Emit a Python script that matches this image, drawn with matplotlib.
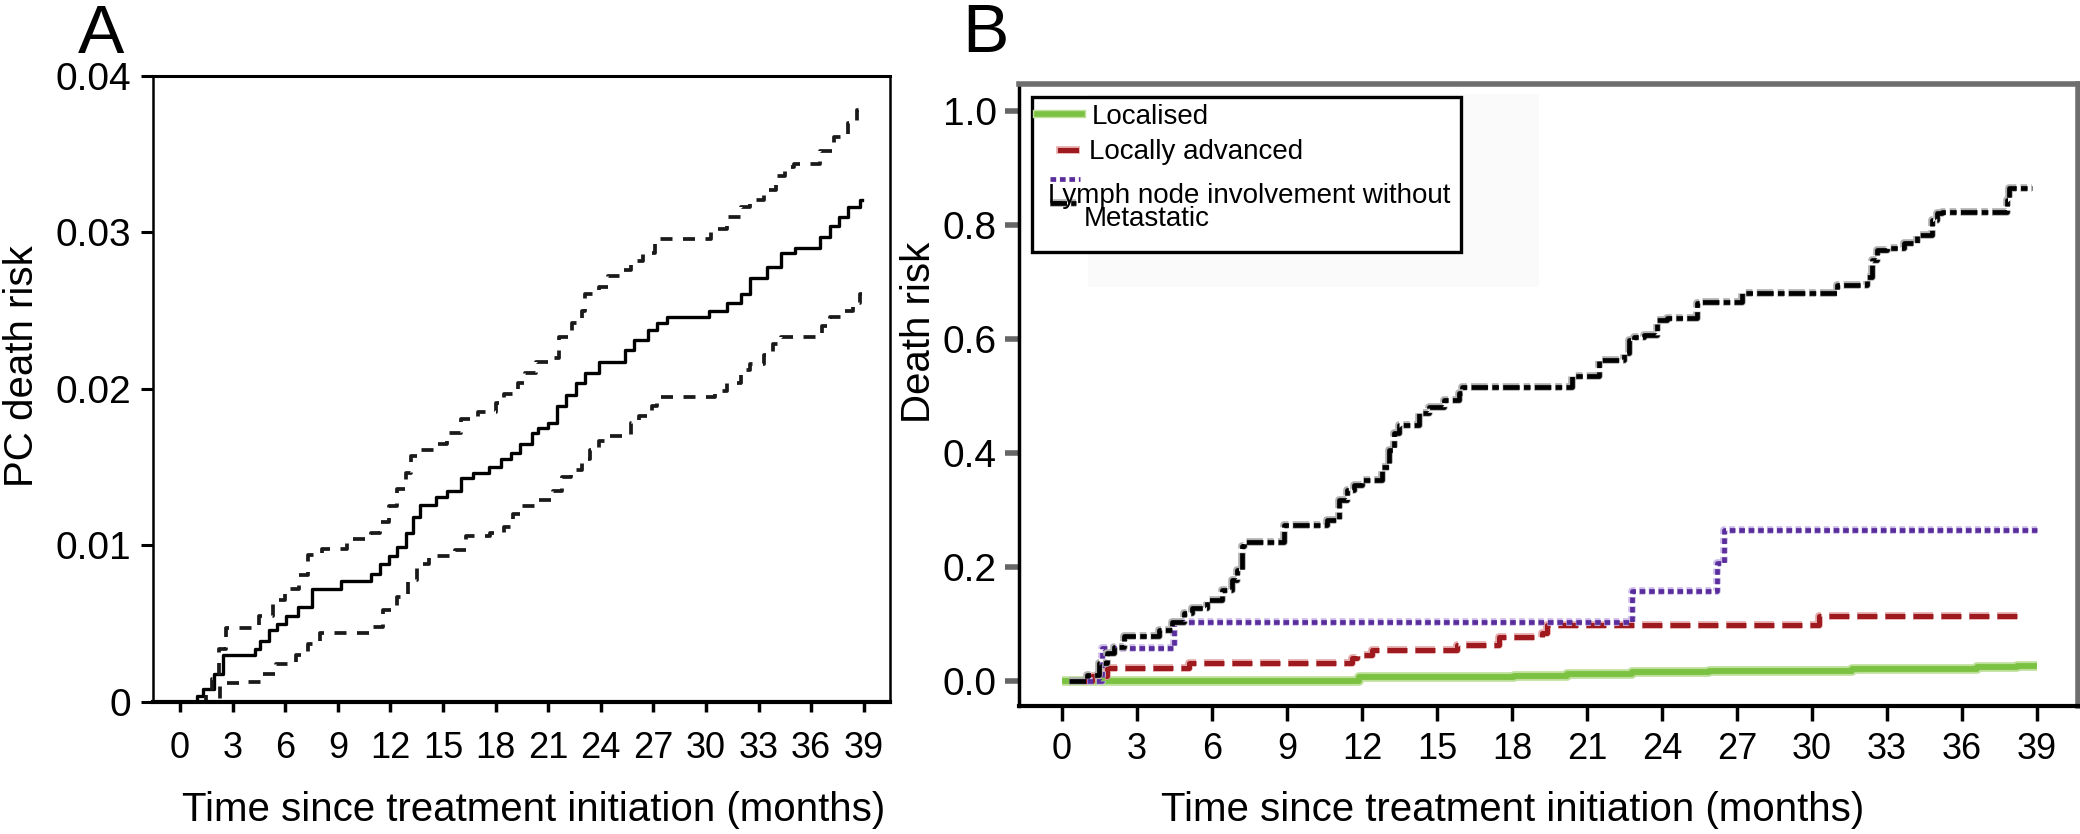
import matplotlib
matplotlib.use('Agg')
import matplotlib.pyplot as plt
import matplotlib.patheffects as pe
from matplotlib.patches import Rectangle

plt.rcParams['font.family'] = ['Liberation Sans', 'DejaVu Sans']

month_ticks = list(range(0, 40, 3))

# ---- panel A : PC death risk with confidence band (step curves) ----
a_time_mid = [0, 0.95, 1.3, 1.95, 2.45, 4.3, 4.55, 5.05, 5.55, 6.05, 6.7, 7.55, 9.2, 10.9,
              11.4, 11.9, 12.4, 12.9, 13.3, 13.7, 14.6, 15.2, 16.0, 16.7, 17.6, 18.3, 18.9,
              19.4, 20.1, 20.4, 21.0, 21.5, 22.0, 22.6, 23.1, 23.9, 25.4, 25.9, 26.7, 27.2,
              27.8, 30.2, 31.2, 32.0, 32.5, 33.5, 34.3, 35.1, 36.5, 37.1, 37.6, 38.1, 38.8, 38.9]
a_risk_mid = [0, 0.0004, 0.0008, 0.0018, 0.0030, 0.0034, 0.0039, 0.0046, 0.0050, 0.0055,
              0.0061, 0.0072, 0.0077, 0.0082, 0.0088, 0.0093, 0.0099, 0.0108, 0.0118, 0.0126,
              0.0131, 0.0135, 0.0143, 0.0146, 0.0150, 0.0155, 0.0159, 0.0165, 0.0172, 0.0175,
              0.0178, 0.0189, 0.0196, 0.0204, 0.0210, 0.0217, 0.0225, 0.0231, 0.0238, 0.0242,
              0.0246, 0.0250, 0.0255, 0.0261, 0.0271, 0.0278, 0.0287, 0.0290, 0.0297, 0.0304,
              0.0310, 0.0316, 0.0321, 0.0321]

a_time_hi = [1.2, 1.5, 1.8, 2.2, 2.6, 4.5, 5.3, 6.0, 6.8, 7.3, 8.1, 9.5, 10.9, 11.4, 11.9,
             12.4, 12.9, 13.2, 13.6, 14.5, 15.2, 16.0, 17.0, 18.0, 18.5, 19.3, 19.7, 20.3,
             21.3, 21.6, 22.35, 22.9, 23.1, 23.9, 24.4, 25.2, 25.7, 26.4, 27.1, 30.3, 31.2,
             32.0, 32.5, 33.3, 34.0, 34.5, 35.0, 36.5, 37.3, 38.1, 38.6, 38.8]
a_risk_hi = [0, 0.0006, 0.0015, 0.0034, 0.0047, 0.0055, 0.0065, 0.0072, 0.0081, 0.0094,
             0.0098, 0.0104, 0.0108, 0.0115, 0.0125, 0.0136, 0.0146, 0.0157, 0.0161, 0.0165,
             0.0172, 0.0181, 0.0185, 0.0191, 0.0197, 0.0204, 0.0210, 0.0217, 0.0220, 0.0233,
             0.0242, 0.0250, 0.0261, 0.0265, 0.0272, 0.0276, 0.0282, 0.0287, 0.0296, 0.0302,
             0.0310, 0.0316, 0.0321, 0.0327, 0.0336, 0.0342, 0.0344, 0.0352, 0.0361, 0.0370,
             0.0378, 0.0378]

a_time_lo = [1.2, 1.75, 2.3, 3.5, 4.75, 5.5, 6.6, 7.3, 8.0, 10.9, 11.6, 12.4, 13.0, 13.5,
             14.2, 15.7, 16.3, 17.7, 18.5, 19.0, 19.5, 20.3, 21.3, 21.8, 22.3, 22.9, 23.4,
             23.9, 24.4, 25.7, 26.2, 26.9, 27.2, 30.5, 31.2, 32.0, 32.5, 33.3, 33.8, 34.3,
             36.6, 37.1, 37.9, 38.4, 38.8, 38.9]
a_risk_lo = [0, 0.0002, 0.0012, 0.0013, 0.0018, 0.0024, 0.0030, 0.0037, 0.0044, 0.0048,
             0.0059, 0.0067, 0.0078, 0.0088, 0.0093, 0.0097, 0.0106, 0.0108, 0.0112, 0.0120,
             0.0125, 0.0129, 0.0135, 0.0144, 0.0148, 0.0155, 0.0161, 0.0167, 0.0170, 0.0178,
             0.0183, 0.0189, 0.0195, 0.0199, 0.0204, 0.0212, 0.0216, 0.0222, 0.0229, 0.0233,
             0.0240, 0.0246, 0.0250, 0.0255, 0.0261, 0.0261]

a_yticks = [0, 0.01, 0.02, 0.03, 0.04]
a_yticklabels = ['0', '0.01', '0.02', '0.03', '0.04']

# ---- panel B : death risk by stage ----
stage_names = ['Localised', 'Locally advanced', 'Lymph node involvement without', 'Metastatic']

b_time_loc = [0, 11.9, 18.1, 20.2, 22.8, 25.9, 31.6, 36.6, 38.2, 39.0]
b_risk_loc = [0.0, 0.006, 0.009, 0.012, 0.015, 0.018, 0.021, 0.024, 0.027, 0.027]

b_time_adv = [0.8, 1.2, 1.8, 5.1, 11.6, 11.8, 12.4, 15.8, 17.5, 19.2, 19.4, 30.3, 38.3]
b_risk_adv = [0, 0.008, 0.022, 0.031, 0.040, 0.046, 0.054, 0.063, 0.077, 0.084, 0.098,
              0.113, 0.113]

b_time_lym = [1.0, 1.6, 4.5, 22.8, 26.2, 26.5, 39.0]
b_risk_lym = [0, 0.057, 0.104, 0.157, 0.206, 0.265, 0.265]

b_time_met = [0.3, 1.0, 1.5, 1.8, 2.1, 2.5, 3.9, 4.4, 4.9, 5.2, 5.8, 6.4, 6.8, 7.0, 7.2,
              7.3, 8.9, 10.6, 11.1, 11.4, 11.7, 12.0, 12.8, 13.1, 13.3, 13.5, 14.3, 14.7,
              15.3, 15.9, 16.0, 20.4, 21.5, 22.5, 22.7, 22.9, 23.3, 23.8, 24.2, 25.4, 25.6,
              27.2, 31.0, 32.2, 32.4, 32.6, 33.0, 33.7, 34.2, 34.8, 35.0, 35.2, 37.8, 37.9,
              38.8]
b_risk_met = [0, 0.011, 0.031, 0.049, 0.060, 0.078, 0.089, 0.104, 0.119, 0.128, 0.142,
              0.160, 0.177, 0.195, 0.236, 0.244, 0.274, 0.282, 0.318, 0.335, 0.344, 0.353,
              0.376, 0.405, 0.435, 0.449, 0.470, 0.481, 0.493, 0.505, 0.516, 0.534, 0.563,
              0.575, 0.598, 0.604, 0.607, 0.633, 0.636, 0.663, 0.665, 0.680, 0.695, 0.709,
              0.739, 0.756, 0.759, 0.768, 0.782, 0.809, 0.820, 0.823, 0.844, 0.864, 0.864]

b_yticks = [0.0, 0.2, 0.4, 0.6, 0.8, 1.0]
b_yticklabels = ['0.0', '0.2', '0.4', '0.6', '0.8', '1.0']

xlabel = 'Time since treatment initiation (months)'

fig = plt.figure(figsize=(20.8, 8.34), dpi=100)

# ================= A =================
ax = fig.add_axes([0.0736, 0.1583, 0.3543, 0.7506])
ax.plot(a_time_mid, a_risk_mid, drawstyle='steps-post', color='black', lw=2.4)
ax.plot(a_time_hi, a_risk_hi, drawstyle='steps-post', color='#1a1a1a', lw=2.7,
        ls=(0, (3.2, 2.8)))
ax.plot(a_time_lo, a_risk_lo, drawstyle='steps-post', color='#1a1a1a', lw=2.7,
        ls=(0, (3.2, 2.8)))
ax.set_xlim(-1.54, 40.5)
ax.set_ylim(0, 0.04)
ax.set_xticks(month_ticks)
ax.set_yticks(a_yticks)
ax.set_yticklabels(a_yticklabels)
for s in ['left', 'right']:
    ax.spines[s].set_linewidth(1.8)
ax.spines['top'].set_linewidth(2.2)
ax.spines['bottom'].set_linewidth(3)
ax.tick_params(axis='y', length=9, width=2.2, pad=7, labelsize=28)
ax.tick_params(axis='x', length=7, width=2.5, pad=14, labelsize=26)
ax.set_xlabel(xlabel, fontsize=29)
ax.xaxis.label.set_va('center')
ax.xaxis.set_label_coords(0.516, -0.1725)
ax.set_ylabel('PC death risk', fontsize=29)
ax.yaxis.label.set_va('center')
ax.yaxis.set_label_coords(-0.1777, 0.537)
fig.text(0.0486, 0.958, 'A', fontsize=50, ha='center', va='center')

# ================= B =================
bx = fig.add_axes([0.4899, 0.1535, 0.5091, 0.7458])
# faint panel behind the legend
bx.add_patch(Rectangle((0.065, 0.674), 0.426, 0.31, transform=bx.transAxes,
                       facecolor='#fafafa', edgecolor='none', zorder=0))

bx.plot(b_time_loc, b_risk_loc, drawstyle='steps-post', color='#7cc242', lw=4.2,
        solid_capstyle='butt', zorder=2,
        path_effects=[pe.Stroke(linewidth=7, foreground='#bfe09c'), pe.Normal()])
bx.plot(b_time_adv, b_risk_adv, drawstyle='steps-post', color='#9e1a1f', lw=3.6,
        ls=(0, (4, 1.6)), zorder=3,
        path_effects=[pe.Stroke(linewidth=5.5, foreground='#e3a9a9'), pe.Normal()])
bx.plot(b_time_lym, b_risk_lym, drawstyle='steps-post', color='#5a2d9c', lw=3.4,
        ls=(0, (1.2, 0.8)), zorder=4,
        path_effects=[pe.Stroke(linewidth=5.5, foreground='#cdbde9'), pe.Normal()])
bx.plot(b_time_met, b_risk_met, drawstyle='steps-post', color='black', lw=3.4,
        ls=(0, (3.5, 0.9, 1.4, 0.9)), zorder=5,
        path_effects=[pe.Stroke(linewidth=5.5, foreground='#b0b0b0'), pe.Normal()])

bx.set_xlim(-1.72, 40.64)
bx.set_ylim(-0.044, 1.047)
bx.set_xticks(month_ticks)
bx.set_yticks(b_yticks)
bx.set_yticklabels(b_yticklabels)
bx.spines['left'].set_linewidth(2.5)
bx.spines['bottom'].set_linewidth(3)
for s in ['top', 'right']:
    bx.spines[s].set_linewidth(4)
    bx.spines[s].set_color('#6e6e6e')
bx.tick_params(axis='y', length=10, width=4, color='#666666', pad=6, labelsize=28)
bx.tick_params(axis='x', length=11, width=2.5, pad=8, labelsize=26)
bx.set_xlabel(xlabel, fontsize=29)
bx.xaxis.label.set_va('center')
bx.xaxis.set_label_coords(0.4665, -0.167)
bx.set_ylabel('Death risk', fontsize=29)
bx.yaxis.label.set_va('center')
bx.yaxis.set_label_coords(-0.0944, 0.6)
fig.text(0.4736, 0.959, 'B', fontsize=50, ha='center', va='center')

# legend box drawn by hand to keep the odd layout of the source figure
tr = bx.transAxes
bx.add_patch(Rectangle((0.0123, 0.7299), 0.4051, 0.2484, transform=tr, facecolor='white',
                       edgecolor='black', lw=2.4, zorder=6))
bx.plot([0.017, 0.0595], [0.9518, 0.9518], transform=tr, color='#7cc242', lw=4, zorder=7,
        path_effects=[pe.Stroke(linewidth=6, foreground='#bfe09c'), pe.Normal()])
bx.plot([0.0387, 0.0538], [0.8939, 0.8939], transform=tr, color='#9e1a1f', lw=3.6, zorder=7,
        path_effects=[pe.Stroke(linewidth=5.5, foreground='#e3a9a9'), pe.Normal()])
bx.plot([0.0293, 0.0576], [0.8473, 0.8473], transform=tr, color='#5a2d9c', lw=3.4,
        ls=(0, (1.2, 0.8)), zorder=7)
bx.plot([0.0293, 0.0538], [0.8087, 0.8087], transform=tr, color='black', lw=3.4,
        ls=(0, (3.5, 0.9, 1.4, 0.9)), zorder=7,
        path_effects=[pe.Stroke(linewidth=5.5, foreground='#b0b0b0'), pe.Normal()])
leg_x = [0.0689, 0.0661, 0.0274, 0.0614]
leg_y = [0.947, 0.8907, 0.8199, 0.783]
for name, lx, ly in zip(stage_names, leg_x, leg_y):
    bx.text(lx, ly, name, transform=tr, fontsize=20, ha='left', va='center', zorder=8)

fig.savefig('out.png', dpi=100)
